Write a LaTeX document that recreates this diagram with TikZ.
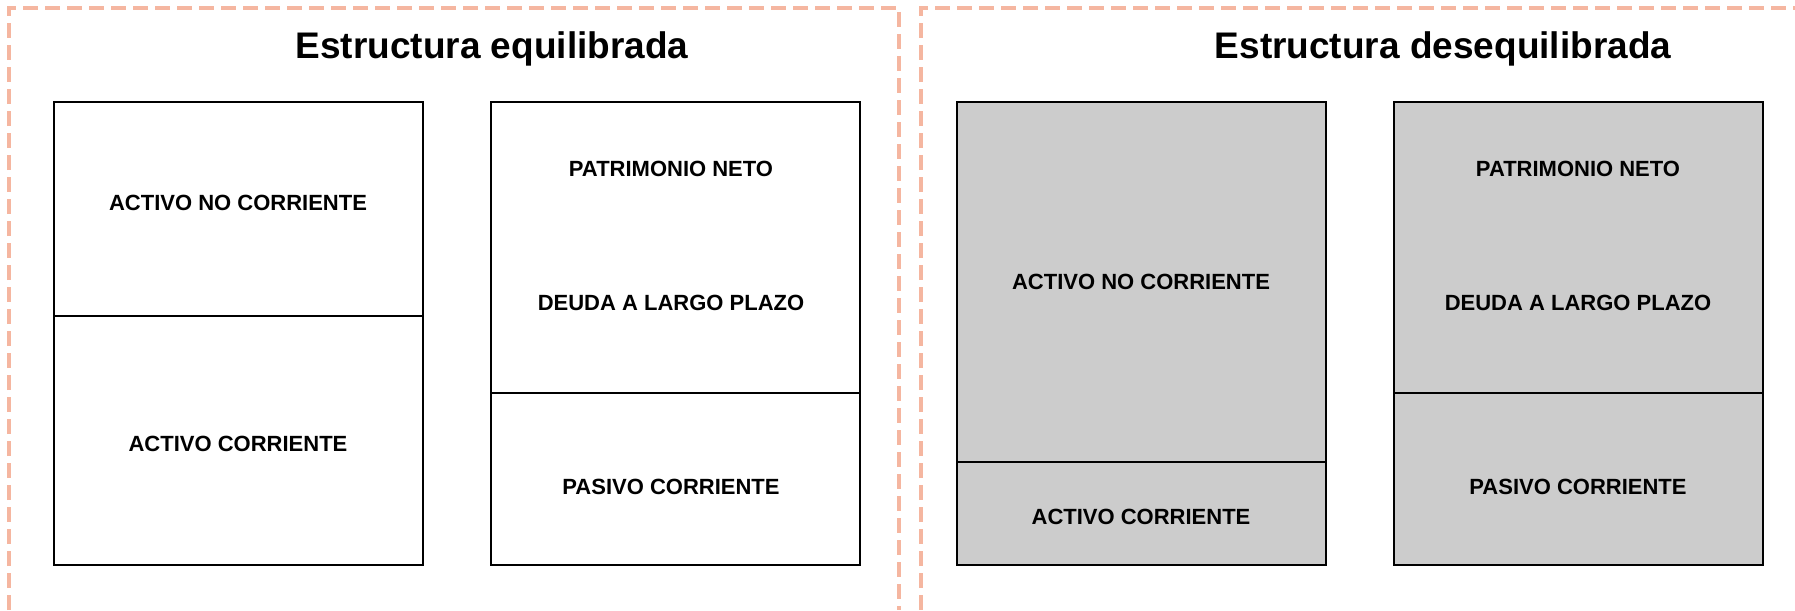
\documentclass[tikz,border=0pt]{standalone}
\usepackage{fontspec}
\setmainfont{Liberation Sans}
\definecolor{salmon}{RGB}{245,182,160}
\definecolor{relleno}{RGB}{204,204,204}
\tikzset{
  marco/.style={draw=salmon, line width=4pt, dash pattern=on 15pt off 7pt},
  caja/.style={draw=black, line width=1.2pt},
  titulo/.style={font=\fontsize{37}{44}\selectfont\bfseries, anchor=base},
  etiq/.style={font=\fontsize{22}{26}\selectfont\bfseries}
}
\begin{document}
\begin{tikzpicture}[x=1pt, y=-1pt]
  \useasboundingbox (0,0) rectangle (1795,610);

  % marcos punteados
  \draw[marco] (9,610) -- (9,8) -- (899,8) -- (899,610);
  \draw[marco] (921,610) -- (921,8) -- (1800,8);

  \node[titulo] (tit1) at (492,59) {Estructura equilibrada};
  \node[titulo] (tit2) at (1443,59) {Estructura desequilibrada};

  % estructura equilibrada
  \draw[caja] (54,102) rectangle (423,565);
  \draw[caja] (54,316) -- (423,316);
  \draw[caja] (491,102) rectangle (860,565);
  \draw[caja] (491,393) -- (860,393);

  \node[etiq] (anc1) at (238,203) {ACTIVO NO CORRIENTE};
  \node[etiq] (ac1)  at (238,444) {ACTIVO CORRIENTE};
  \node[etiq] (pn1)  at (671,169) {PATRIMONIO NETO};
  \node[etiq] (dlp1) at (671,303) {DEUDA A LARGO PLAZO};
  \node[etiq] (pc1)  at (671,487) {PASIVO CORRIENTE};

  % estructura desequilibrada
  \draw[caja, fill=relleno] (957,102) rectangle (1326,565);
  \draw[caja] (957,462) -- (1326,462);
  \draw[caja, fill=relleno] (1394,102) rectangle (1763,565);
  \draw[caja] (1394,393) -- (1763,393);

  \node[etiq] (anc2) at (1141,282) {ACTIVO NO CORRIENTE};
  \node[etiq] (ac2)  at (1141,517) {ACTIVO CORRIENTE};
  \node[etiq] (pn2)  at (1578,169) {PATRIMONIO NETO};
  \node[etiq] (dlp2) at (1578,303) {DEUDA A LARGO PLAZO};
  \node[etiq] (pc2)  at (1578,487) {PASIVO CORRIENTE};

\end{tikzpicture}
\end{document}
